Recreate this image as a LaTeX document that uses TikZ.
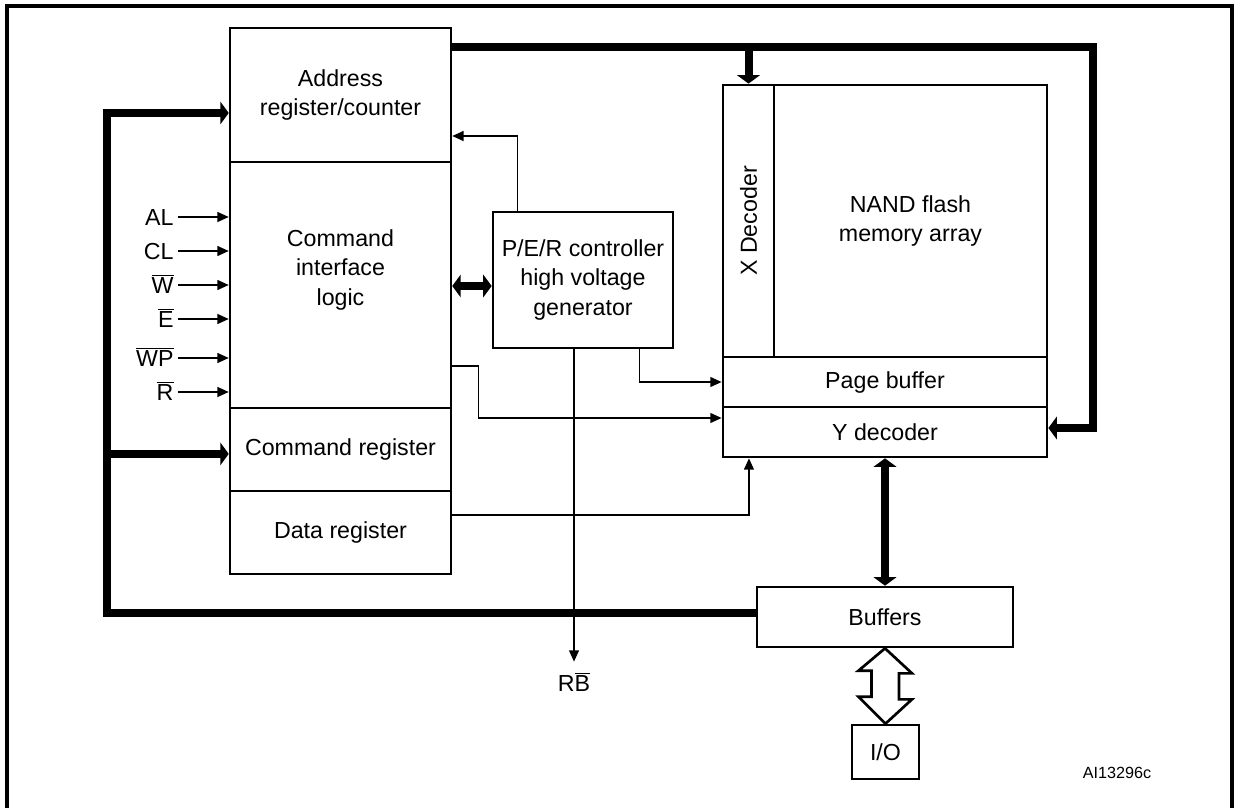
\documentclass[tikz,border=0pt]{standalone}
\usepackage{fontspec}
\setmainfont{Liberation Sans}
\usetikzlibrary{arrows.meta}
\begin{document}
\begin{tikzpicture}[x=0.025cm,y=-0.025cm,
  every node/.style={font=\fontsize{16.5}{21}\selectfont,align=center},
  blk/.style={draw,line width=1.9pt,inner sep=0pt},
  sig/.style={line width=1pt,-{Triangle[length=8pt,width=7pt]}},
  busto/.style={line width=5.7pt,-{Triangle[length=6pt,width=16pt]}},
  busboth/.style={line width=5.7pt,{Triangle[length=6pt,width=16pt]}-{Triangle[length=6pt,width=16pt]}}]
\useasboundingbox (0,0) rectangle (1240,807);
\draw[line width=2.2pt] (7,6) rectangle (1232,840);
% left column
\node[blk,minimum width=5.52cm,minimum height=3.35cm] (addr) at (340.5,95) {Address\\register/counter};
\node[blk,minimum width=5.52cm,minimum height=6.15cm] (cil) at (340.5,285) {};
\node (cilt) at (340.5,270) {Command\\interface\\logic};
\node[blk,minimum width=5.52cm,minimum height=2.075cm] (cmdreg) at (340.5,449.5) {Command register};
\node[blk,minimum width=5.52cm,minimum height=2.075cm] (datareg) at (340.5,532.5) {Data register};
\node[blk,minimum width=4.5cm,minimum height=3.4cm] (per) at (583,280) {P/E/R controller\\high voltage\\generator};
% memory array
\node[blk,minimum width=1.275cm,minimum height=6.8cm] (xdec) at (748.5,221) {};
\node[rotate=90] (xdect) at (xdec) {X Decoder};
\node[blk,minimum width=6.825cm,minimum height=6.8cm] (nand) at (910.5,221) {NAND flash\\memory array};
\node[blk,minimum width=8.1cm,minimum height=1.25cm] (pagebuf) at (885,382) {Page buffer};
\node[blk,minimum width=8.1cm,minimum height=1.25cm] (ydec) at (885,432) {Y decoder};
\node[blk,minimum width=6.4cm,minimum height=1.5cm] (buffers) at (885,617) {Buffers};
\node[blk,minimum width=1.675cm,minimum height=1.35cm] (io) at (885.5,752) {I/O};
\node (rb) at (574,682) {R$\overline{\hbox{B}}$};
\node[font=\fontsize{11.5}{14}\selectfont] (ref) at (1117,773) {AI13296c};
% control inputs
\foreach \i/\lbl/\y in {1/AL/217,2/CL/251,3/{$\overline{\hbox{W}}$}/285,4/{$\overline{\hbox{E}}$}/319,5/{$\overline{\hbox{WP}}$}/358,6/{$\overline{\hbox{R}}$}/392} {
  \node[anchor=east,inner sep=3pt,text height=12pt,text depth=0pt] (s\i) at (178,\y) {\lbl};
  \draw[sig] (s\i.east) -- (s\i.east -| cil.west);
}
% buses
\coordinate (ltop) at (107,113);
\coordinate (rtop) at (1093,47);
\coordinate (cmdin) at ([yshift=-0.11cm]cmdreg.west);
\coordinate (perin) at ([yshift=-0.15cm]per.west);
\draw[busto] ([yshift=0.1cm]buffers.west) -| (ltop) -- (ltop -| addr.west);
\draw[busto] (ltop |- cmdin) -- (cmdin);
\draw[busto] (addr.east |- rtop) -- (rtop) |- ([yshift=0.1cm]ydec.east);
\draw[busto] (xdec.north |- rtop) -- (xdec.north);
\draw[busboth] (buffers.north) -- (buffers.north |- ydec.south);
\draw[busboth] (cil.east |- perin) -- (perin);
% control lines
\draw[sig] ([xshift=0.65cm]per.north west) |- ([yshift=-1.025cm]addr.east);
\draw[sig] ([xshift=-0.875cm]per.south east) |- (pagebuf.west);
\draw[sig] ([yshift=-2.025cm]cil.east) -- ++(26,0) |- ([yshift=0.35cm]ydec.west);
\draw[sig] ([yshift=0.44cm]datareg.east) -| ([xshift=-3.4cm]ydec.south);
\draw[sig] (per.south -| rb.north) -- ([yshift=0.15cm]rb.north);
% I/O path
\draw[line width=1.9pt,fill=white] (buffers.south) -- ++(27,25) -- ++(-13,0) -- ++(0,26) -- ++(13,0) -- (io.north)
  -- ++(-27,-27) -- ++(13,0) -- ++(0,-26) -- ++(-13,0) -- cycle;
\end{tikzpicture}
\end{document}
